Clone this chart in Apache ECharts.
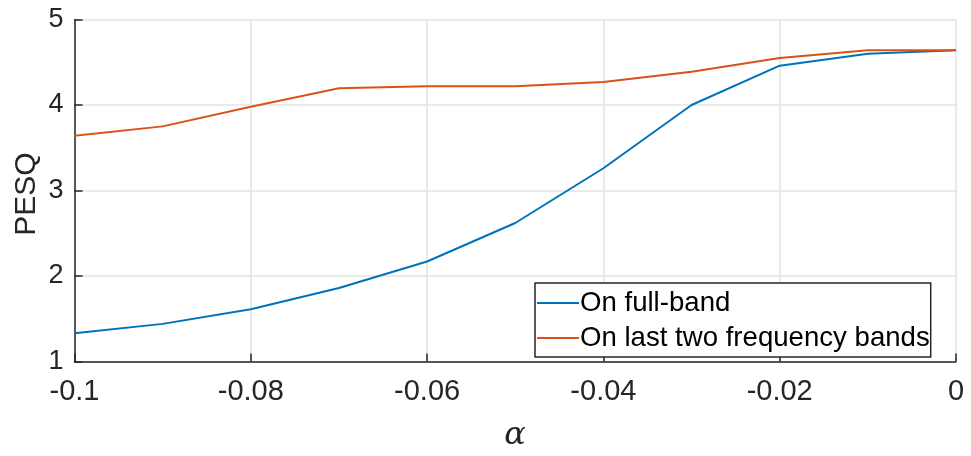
<!DOCTYPE html>
<html><head><meta charset="utf-8">
<script src="https://cdn.jsdelivr.net/npm/echarts@6/dist/echarts.min.js"></script>
<style>html,body{margin:0;padding:0;background:#fff}#c{width:971px;height:456px}</style>
</head><body><div id="c"></div>
<script>
const alphaValues = [-0.1, -0.09, -0.08, -0.07, -0.06, -0.05, -0.04, -0.03, -0.02, -0.01, 0];
const fullBand = [1.33, 1.44, 1.61, 1.86, 2.17, 2.62, 3.26, 4.0, 4.46, 4.6, 4.64];
const lastTwoBands = [3.64, 3.75, 3.98, 4.195, 4.22, 4.22, 4.27, 4.39, 4.55, 4.64, 4.64];
const seriesNames = ['On full-band', 'On last two frequency bands'];
const xTicks = [-0.1, -0.08, -0.06, -0.04, -0.02, 0];
const yTicks = [1, 2, 3, 4, 5];

const font = 'Liberation Sans, Arial, sans-serif';
const chart = echarts.init(document.getElementById('c'), null, {renderer: 'canvas'});
const axisCol = '#262626';
chart.setOption({
  animation: false,
  backgroundColor: '#fff',
  grid: {left: 74.5, right: 15, top: 19.5, bottom: 94.5},
  xAxis: {
    type: 'value', min: -0.1, max: 0, interval: 0.02,
    axisLine: {show: true, onZero: false, lineStyle: {color: axisCol, width: 1.5}},
    axisTick: {show: true, inside: true, length: 8, lineStyle: {color: axisCol, width: 1.5}},
    axisLabel: {color: '#262626', fontSize: 29, fontFamily: font, margin: 16,
      formatter: v => { const r = Math.round(v*100)/100; return r === 0 ? '0' : String(r); }},
    splitLine: {show: true, lineStyle: {color: '#e3e3e3', width: 1.5}}
  },
  yAxis: {
    type: 'value', min: 1, max: 5, interval: 1,
    axisLine: {show: true, onZero: false, lineStyle: {color: axisCol, width: 1.5}},
    axisTick: {show: true, inside: true, length: 8, lineStyle: {color: axisCol, width: 1.5}},
    axisLabel: {color: '#262626', fontSize: 27, fontFamily: font, margin: 11},
    splitLine: {show: true, lineStyle: {color: '#e3e3e3', width: 1.5}}
  },
  legend: {
    orient: 'vertical', left: 535, top: 283, width: 400,
    padding: [6, 1, 5, 2],
    itemGap: 7, itemWidth: 42, itemHeight: 2,
    borderColor: '#262626', borderWidth: 1.5, backgroundColor: '#fff',
    icon: 'rect',
    textStyle: {color: '#000', fontSize: 27.6, fontFamily: font, padding: [0, 0, 0, -4], lineHeight: 28},
    data: seriesNames
  },
  series: [
    {name: seriesNames[0], type: 'line', showSymbol: false, symbol: 'none',
     data: alphaValues.map((x, i) => [x, fullBand[i]]),
     lineStyle: {color: '#0072BD', width: 2}, itemStyle: {color: '#0072BD'}},
    {name: seriesNames[1], type: 'line', showSymbol: false, symbol: 'none',
     data: alphaValues.map((x, i) => [x, lastTwoBands[i]]),
     lineStyle: {color: '#D95319', width: 2}, itemStyle: {color: '#D95319'}}
  ],
  graphic: [
    {type: 'text', rotation: Math.PI/2, x: 27, y: 194,
     style: {text: 'PESQ', fill: '#262626', font: '30px ' + font, textAlign: 'center', textVerticalAlign: 'middle'}},
    {type: 'text', style: {text: 'α', fill: '#262626', font: 'italic 32px "DejaVu Serif", "Liberation Serif", serif', textAlign: 'center', textVerticalAlign: 'middle'},
     x: 515, y: 436}
  ]
});
</script></body></html>
